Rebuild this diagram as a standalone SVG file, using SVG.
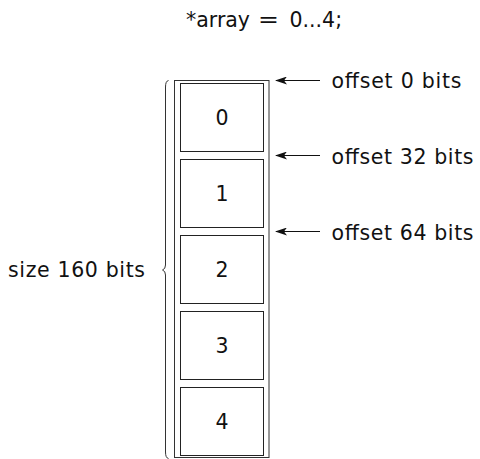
<svg xmlns="http://www.w3.org/2000/svg" width="480" height="459" viewBox="0 0 480 459">
  <defs>
    <style>
      text { font-family: "DejaVu Sans", "Liberation Sans", sans-serif; font-size: 20.5px; fill: #111; }
      .cell { fill: #fff; stroke: #222; stroke-width: 1; }
      .frame { fill: none; stroke: #333; stroke-width: 1; }
      .ptr { stroke: #111; stroke-width: 1.2; fill: none; marker-end: url(#head); }
      .num { text-anchor: middle; }
    </style>
    <marker id="head" viewBox="0 0 12 8" refX="11" refY="4" markerWidth="12" markerHeight="8" markerUnits="userSpaceOnUse" orient="auto">
      <path d="M0,0 L12,4 L0,8 L3,4 Z" fill="#111"/>
    </marker>
  </defs>

  <rect width="480" height="459" fill="#fff"/>

  <!-- title: *array = 0...4; -->
  <g id="title">
    <text x="186" y="27">*array</text>
    <text x="258" y="27" textLength="21" lengthAdjust="spacingAndGlyphs">=</text>
    <text x="289.5" y="27">0...4;</text>
  </g>

  <!-- array frame -->
  <g id="array">
    <rect class="frame" x="174.5" y="80.5" width="94.5" height="377"/>
  </g>

  <!-- elements -->
  <g id="cell0"><rect class="cell" x="180.5" y="83.5" width="83" height="68"/><text class="num" x="222" y="125">0</text></g>
  <g id="cell1"><rect class="cell" x="180.5" y="159.5" width="83" height="68"/><text class="num" x="222" y="201">1</text></g>
  <g id="cell2"><rect class="cell" x="180.5" y="235.5" width="83" height="68"/><text class="num" x="222" y="277">2</text></g>
  <g id="cell3"><rect class="cell" x="180.5" y="311.5" width="83" height="68"/><text class="num" x="222" y="353">3</text></g>
  <g id="cell4"><rect class="cell" x="180.5" y="387.5" width="83" height="68"/><text class="num" x="222" y="429">4</text></g>

  <!-- size brace -->
  <g id="size">
    <path class="frame" d="M168.5,80.5 Q165.5,81 165.5,87 L165.5,265 Q165.5,269 162.5,270 Q165.5,271 165.5,275 L165.5,452 Q165.5,458 168.5,458.5"/>
    <text x="8" y="277" textLength="137" lengthAdjust="spacing">size 160 bits</text>
  </g>

  <!-- offset pointers -->
  <g id="connectors">
    <line class="ptr" x1="320" y1="80.5" x2="276" y2="80.5"/>
    <line class="ptr" x1="320" y1="155.5" x2="276" y2="155.5"/>
    <line class="ptr" x1="320" y1="231.5" x2="276" y2="231.5"/>
  </g>

  <g id="offset0"><text x="331.5" y="88.3" textLength="130" lengthAdjust="spacing">offset 0 bits</text></g>
  <g id="offset32"><text x="331.5" y="163.8" textLength="142" lengthAdjust="spacing">offset 32 bits</text></g>
  <g id="offset64"><text x="331.5" y="239.8" textLength="142" lengthAdjust="spacing">offset 64 bits</text></g>
</svg>
